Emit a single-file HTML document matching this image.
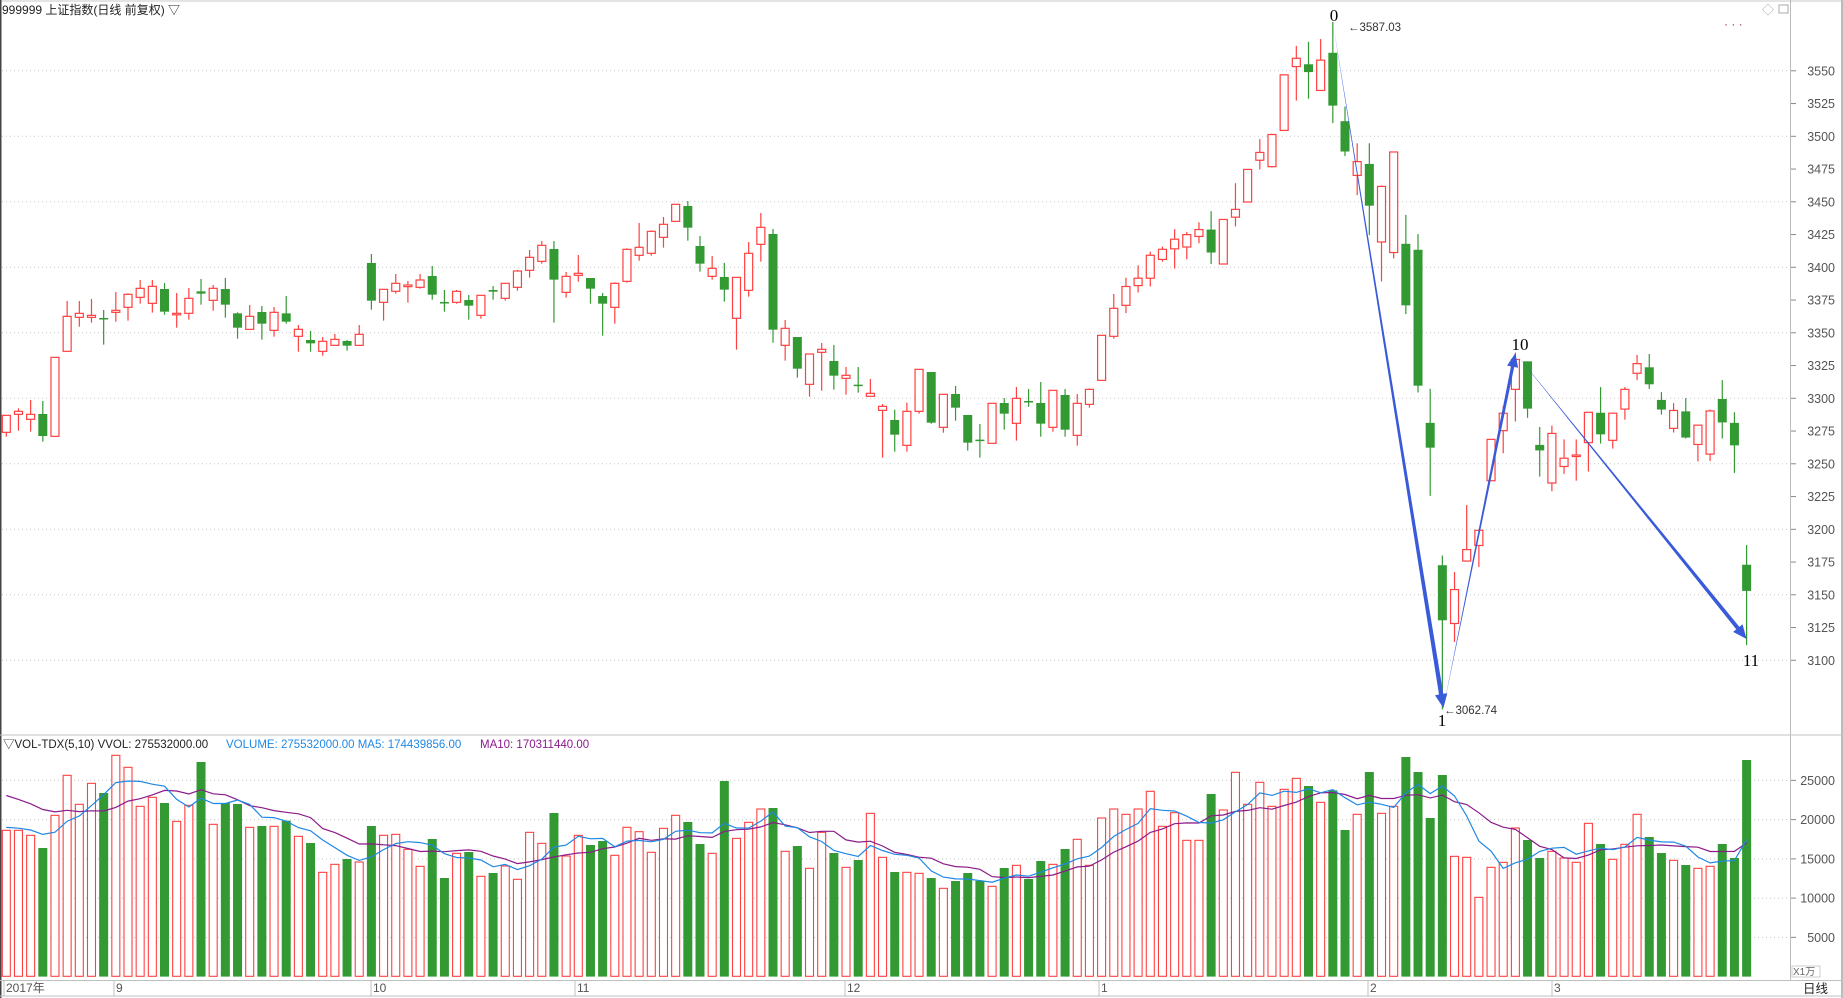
<!DOCTYPE html>
<html><head><meta charset="utf-8"><style>
html,body{margin:0;padding:0;background:#fff;overflow:hidden}
svg{display:block}
text{font-family:"Liberation Sans","Noto Sans CJK SC",sans-serif}
</style></head><body>
<svg id="s" width="1843" height="998" xmlns="http://www.w3.org/2000/svg"></svg>
<script>
var A=function(z){return 180+z/3},B=function(z){return z/2.178};
var g1=[["R",706,706,757,770],["R",685,694,703,752],["R",660,703,718,755],["G",663,702,768,785],["R",532,532,769,769],["R",363,409,514,514],["R",363,400,412,440],["R",357,406,412,428],["G",390,414,416,494],["R",336,391,397,425],["R",340,343,382,422],["R",300,325,352,371],["R",300,319,370,398],["G",309,327,395,404],["R",339,400,404,443],["R",324,355,400,419],["G",297,334,341,374],["R",315,325,361,392],["G",294,327,374,413],["G",397,400,443,476],["R",375,409,448,448],["G",378,396,431,479],["R",381,397,451,470],["G",348,400,425,431],["R",435,448,469,515],["G",453,480,490,515],["R",471,484,514,527],["R",462,478,496,496],["G",480,483,497,512],["R",435,463,496,496]];
var g2=[["G",222,249,362,389],["R",328,328,367,422],["R",282,310,334,341],["R",303,315,320,368],["R",282,300,322,326],["G",258,288,344,359],["G",330,366,370,395],["R",330,334,367,371],["G",345,360,377,419],["R",346,346,406,416],["G",318,330,335,359],["R",310,310,355,362],["R",270,273,322,332],["R",210,232,271,293],["R",183,196,244,251],["G",183,207,299,428],["R",276,289,337,353],["R",225,280,286,305],["G",294,294,326,371],["G",339,348,371,467],["R",307,310,382,431],["R",205,208,304,308],["R",129,202,226,242],["R",151,154,220,227],["R",111,133,172,203],["R",73,73,124,124],["G",63,78,143,182],["G",168,198,251,275],["R",228,265,289,299],["G",249,291,329,365],["R",292,292,415,509],["R",186,220,331,350],["R",99,142,193,245],["G",147,162,449,488]];
var g3=[["R",420,445,496,542],["G",471,471,566,593],["R",522,522,613,650],["R",489,508,517,632],["G",495,543,587,629],["R",561,586,595,644],["G",561,614,617,638],["R",597,640,649,649],["R",672,679,691,833],["G",689,720,764,815],["R",668,694,796,815],["R",568,568,694,701],["G",576,576,728,731],["R",643,643,742,758],["G",618,642,683,722],["G",705,705,788,812],["G",732,779,782,833],["R",670,670,790,790],["G",654,669,701,749],["R",621,655,730,782],["G",627,663,665,680],["G",606,669,731,770],["R",631,631,742,755],["G",627,645,749,770],["R",642,670,766,797],["R",625,628,673,683],["R",466,466,601,601],["R",342,385,469,476]];
var g4=[["R",605,624,665,682],["R",578,606,622,637],["R",548,556,606,624],["R",537,543,565,570],["R",499,521,542,585],["R",505,511,538,565],["R",484,500,515,530],["G",460,500,550,575],["R",478,478,575,575],["R",399,456,473,493],["R",368,369,440,440],["R",303,332,349,369],["R",291,293,363,365],["R",163,163,284,284],["R",100,127,145,219],["G",91,140,157,215],["R",85,131,197,197],["G",48,115,230,268],["G",232,264,330,340],["R",312,352,382,425],["G",312,357,448,512],["R",404,406,527,613],["R",331,331,550,563],["G",468,531,665,684],["G",510,544,840,855],["G",847,921,975,1080],["G",1210,1231,1351,1545],["R",1246,1284,1358,1398]];
var g5=[["R",1100,1197,1222,1222],["R",1155,1155,1188,1235],["R",957,957,1047,1047],["R",885,900,938,987],["R",768,783,848,918],["G",787,787,890,910],["G",930,969,981,1038],["R",927,944,1052,1070],["R",957,998,1016,1032],["R",957,991,994,1047],["R",898,898,964,1027],["G",843,899,946,966],["R",900,900,959,977],["R",843,848,891,914],["R",773,792,813,828],["G",771,800,837,847],["G",854,871,892,903],["R",878,894,933,942],["G",867,896,953,955],["R",926,926,968,1005],["R",892,895,989,1004],["G",828,869,920,955],["G",898,921,970,1030],["G",1187,1230,1287,1405]];
var C=[];
function add(g,f){g.forEach(function(d){C.push([d[0],f(d[1]),f(d[2]),f(d[3]),f(d[4])])})}
add(g1,A);add(g2,A);add(g3,A);add(g4,B);add(g5,B);
var vol=[307,307,322,360,262,142,229,166,195,82,118,235,208,225,280,232,102,289,225,228,298,294,295,278,325,345,433,409,393,402,294,322,319,364,415,333,450,376,372,445,435,414,454,313,346,255,384,322,351,339,382,
298,311,373,301,262,282,348,376,159,331,283,243,240,370,354,421,313,375,418,396,256,388,432,433,436,450,481,459,435,459,475,420,412,453,399,409,363,334,412,270,243,259,243,190,295,254,337,337,198,246,133,
229,163,235,184,151,174,223,187,306,259,132,256,235,87,132,270,141,385,388,508,418,403,300,336,390,370,390,403,286,348,394,349,259,327,375,397,411,421,415,348,390,96];
var RED="#ff4040",GRN="#339933",o=[];
function X(i){return 6.3+i*12.17}
// frame
o.push('<rect x="0" y="0" width="1843" height="998" fill="#fff"/>');
o.push('<line x1="0" y1="1" x2="1843" y2="1" stroke="#c8c8c8"/>');
o.push('<line x1="0.5" y1="0" x2="0.5" y2="998" stroke="#444" stroke-width="2"/>');
o.push('<line x1="1790.5" y1="0" x2="1790.5" y2="980" stroke="#bbb"/>');
o.push('<line x1="1842" y1="0" x2="1842" y2="998" stroke="#bbb" stroke-width="2"/>');
o.push('<line x1="0" y1="735" x2="1843" y2="735" stroke="#c0c0c0"/>');
o.push('<line x1="0" y1="980.5" x2="1843" y2="980.5" stroke="#c0c0c0"/>');
o.push('<line x1="0" y1="996" x2="1843" y2="996" stroke="#c0c0c0"/>');
// price grid
for(var p=3100;p<=3550;p+=25){var y=267.3+(3400-p)*1.31;
 if(p%50==0)o.push('<line x1="2" y1="'+y+'" x2="1790" y2="'+y+'" stroke="#c8c8c8" stroke-dasharray="1,3"/>');
 o.push('<line x1="1791" y1="'+y+'" x2="1796" y2="'+y+'" stroke="#888"/>');
 o.push('<text x="1835" y="'+(y+4.5)+'" font-size="12.5" fill="#555" text-anchor="end">'+p+'</text>');}
// vol grid
for(var v=5000;v<=25000;v+=5000){var y=976.6-v*0.00785;
 o.push('<line x1="2" y1="'+y+'" x2="1790" y2="'+y+'" stroke="#c8c8c8" stroke-dasharray="1,3"/>');
 o.push('<line x1="1791" y1="'+y+'" x2="1796" y2="'+y+'" stroke="#888"/>');
 o.push('<text x="1835" y="'+(y+4.5)+'" font-size="12.5" fill="#555" text-anchor="end">'+v+'</text>');}
// candles
C.forEach(function(d,i){var x=X(i),col=d[0]=="R"?RED:GRN;
 o.push('<line x1="'+x+'" y1="'+d[1]+'" x2="'+x+'" y2="'+d[4]+'" stroke="'+col+'" stroke-width="1.2"/>');
 var h=Math.max(d[3]-d[2],1.5);
 if(d[0]=="R")o.push('<rect x="'+(x-4)+'" y="'+d[2]+'" width="8" height="'+h+'" fill="#fff" stroke="'+col+'" stroke-width="1.2"/>');
 else o.push('<rect x="'+(x-4.5)+'" y="'+d[2]+'" width="9" height="'+h+'" fill="'+col+'"/>');});
// volume bars
var H=[];
vol.forEach(function(z,i){var y=z/3+728,x=X(i),col=C[i][0]=="R"?RED:GRN;H.push(976.3-y);
 if(C[i][0]=="R")o.push('<rect x="'+(x-4)+'" y="'+y+'" width="8" height="'+(976.3-y)+'" fill="#fff" stroke="'+col+'" stroke-width="1.1"/>');
 else o.push('<rect x="'+(x-4.5)+'" y="'+y+'" width="9" height="'+(976.6-y)+'" fill="'+col+'"/>');});
function ma(n,c,pre){var pts=[];for(var i=0;i<H.length;i++){var s=0,k=0;for(var j=i-n+1;j<=i;j++){s+=(j>=0?H[j]:pre);k++}pts.push(X(i).toFixed(1)+','+(976.6-s/k).toFixed(1))}
 o.push('<polyline points="'+pts.join(' ')+'" fill="none" stroke="'+c+'" stroke-width="1.2"/>')}
ma(10,"#8b1a8b",185);ma(5,"#1e88e5",150);
// arrows
function arrow(x1,y1,x2,y2,w){var dx=x2-x1,dy=y2-y1,L=Math.sqrt(dx*dx+dy*dy),ux=dx/L,uy=dy/L,nx=-uy,ny=ux;
 var hx=x2-ux*14,hy=y2-uy*14;
 var P=[[x1,y1],[hx+nx*w,hy+ny*w],[hx+nx*(w+4),hy+ny*(w+4)],[x2,y2],[hx-nx*(w+4),hy-ny*(w+4)],[hx-nx*w,hy-ny*w]];
 o.push('<polygon points="'+P.map(function(q){return q[0].toFixed(1)+','+q[1].toFixed(1)}).join(' ')+'" fill="#3a5bd9"/>');}
arrow(X(109),22,X(118)+1,708,2.2);
arrow(X(118)+1,708,X(124),353,1.6);
arrow(X(124),353,X(143),639,2);
// annotations
o.push('<text x="1334" y="21" font-size="17" font-family="Liberation Serif" text-anchor="middle" fill="#000" style="font-family:Liberation Serif,serif">0</text>');
o.push('<text x="1348" y="31" font-size="11.5" fill="#333">&#8592;3587.03</text>');
o.push('<text x="1442" y="726" font-size="17" text-anchor="middle" fill="#000" style="font-family:Liberation Serif,serif">1</text>');
o.push('<text x="1444" y="714" font-size="11.5" fill="#333">&#8592;3062.74</text>');
o.push('<text x="1520" y="350" font-size="17" text-anchor="middle" fill="#000" style="font-family:Liberation Serif,serif">10</text>');
o.push('<text x="1751" y="666" font-size="17" text-anchor="middle" fill="#000" style="font-family:Liberation Serif,serif">11</text>');
// header
o.push('<text x="2" y="14" font-size="12" fill="#222">999999 上证指数(日线 前复权) ▽</text>');
o.push('<text x="1762" y="14" font-size="12" fill="#aaa">◇</text><rect x="1779" y="5" width="9" height="8" fill="none" stroke="#aaa"/>');
o.push('<text x="1724" y="28" font-size="12" fill="#a03070">·  ·  ·</text>');
// vol legend
o.push('<text x="3" y="748" font-size="11.5" fill="#222">▽VOL-TDX(5,10)  VVOL: 275532000.00</text>');
o.push('<text x="226" y="748" font-size="11.5" fill="#1e88e5">VOLUME: 275532000.00  MA5: 174439856.00</text>');
o.push('<text x="480" y="748" font-size="11.5" fill="#8b1a8b">MA10: 170311440.00</text>');
o.push('<rect x="1792" y="966" width="28" height="11" fill="#fff" stroke="#ccc"/><text x="1793" y="975" font-size="10" fill="#666">X1万</text>');
// x axis
[["2017年",6],["9",116],["10",373],["11",577],["12",847],["1",1101],["2",1370],["3",1554]].forEach(function(t){
 o.push('<line x1="'+(t[1]-2)+'" y1="980" x2="'+(t[1]-2)+'" y2="996" stroke="#c0c0c0"/>');
 o.push('<text x="'+t[1]+'" y="992" font-size="12" fill="#555">'+t[0]+'</text>');});
o.push('<text x="1803" y="993" font-size="12.5" fill="#222">日线</text>');
document.getElementById("s").innerHTML=o.join("");
</script>
</body></html>
